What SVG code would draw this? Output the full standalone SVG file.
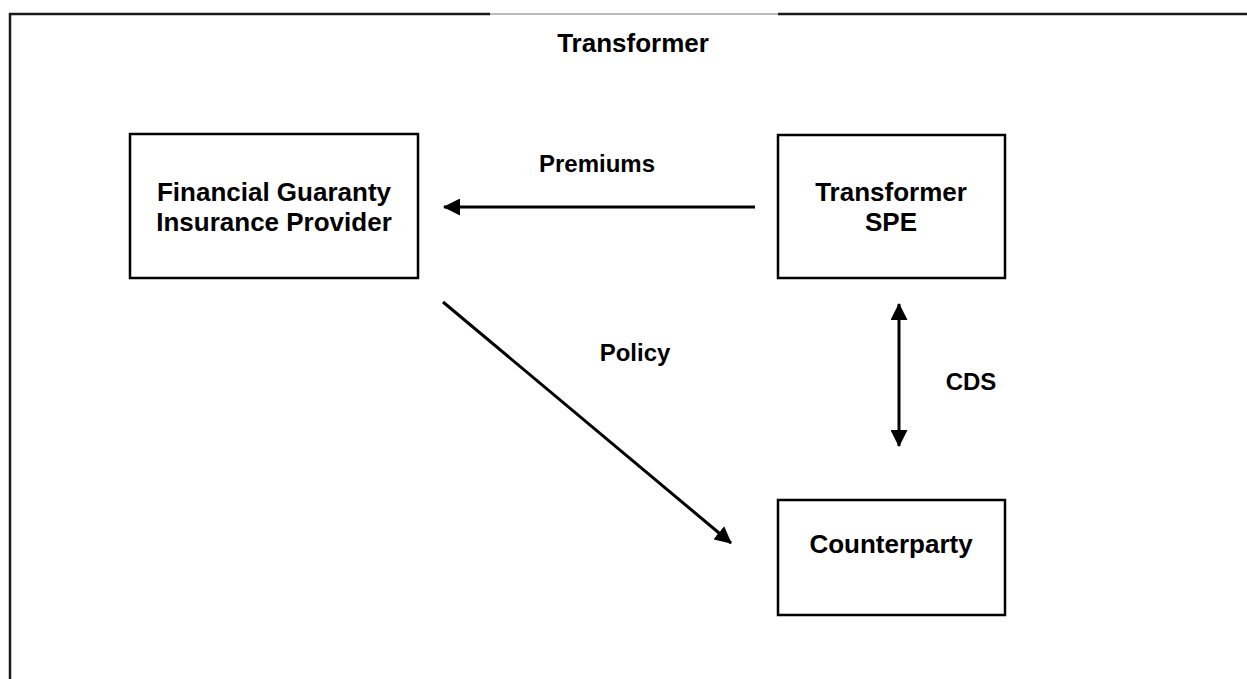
<svg xmlns="http://www.w3.org/2000/svg" width="1247" height="679" viewBox="0 0 1247 679">
<style>
text{font-family:"Liberation Sans",Arial,sans-serif;font-weight:bold;fill:#000;text-anchor:middle}
.t{font-size:26px}
.l{font-size:24px}
.box{fill:#fff;stroke:#000;stroke-width:2.5}
.frame{stroke:#1a1a1a;stroke-width:2.5;fill:none}
.conn{stroke:#000;stroke-width:3;fill:none}
</style>
<defs>
<marker id="ah" viewBox="0 0 17 17" refX="16" refY="8.5" markerWidth="17" markerHeight="17" orient="auto-start-reverse" markerUnits="userSpaceOnUse">
<path d="M0,0 L17,8.5 L0,17 z" fill="#000"/>
</marker>
</defs>
<rect width="1247" height="679" fill="#fff"/>
<g id="frame">
<path class="frame" d="M10,679 V14 H490"/>
<path class="frame" d="M778,14 H1247"/>
<path d="M490,14 H778" stroke="#777" stroke-width="1" fill="none"/>
<text class="t" x="633" y="52">Transformer</text>
</g>
<g id="fgip">
<rect class="box" x="130" y="134" width="288" height="144"/>
<text class="t" x="274" y="201">Financial Guaranty</text>
<text class="t" x="274" y="231">Insurance Provider</text>
</g>
<g id="spe">
<rect class="box" x="778" y="135" width="227" height="143"/>
<text class="t" x="891" y="201">Transformer</text>
<text class="t" x="891" y="231">SPE</text>
</g>
<g id="counterparty">
<rect class="box" x="778" y="500" width="227" height="115"/>
<text class="t" x="891" y="553">Counterparty</text>
</g>
<g id="connectors">
<line class="conn" x1="755" y1="207" x2="444" y2="207" marker-end="url(#ah)"/>
<line class="conn" x1="443" y1="302" x2="731" y2="543" marker-end="url(#ah)"/>
<line class="conn" x1="899" y1="304" x2="899" y2="446" marker-start="url(#ah)" marker-end="url(#ah)"/>
<text class="l" x="597" y="172">Premiums</text>
<text class="l" x="635" y="361">Policy</text>
<text class="l" x="971" y="390">CDS</text>
</g>
</svg>
